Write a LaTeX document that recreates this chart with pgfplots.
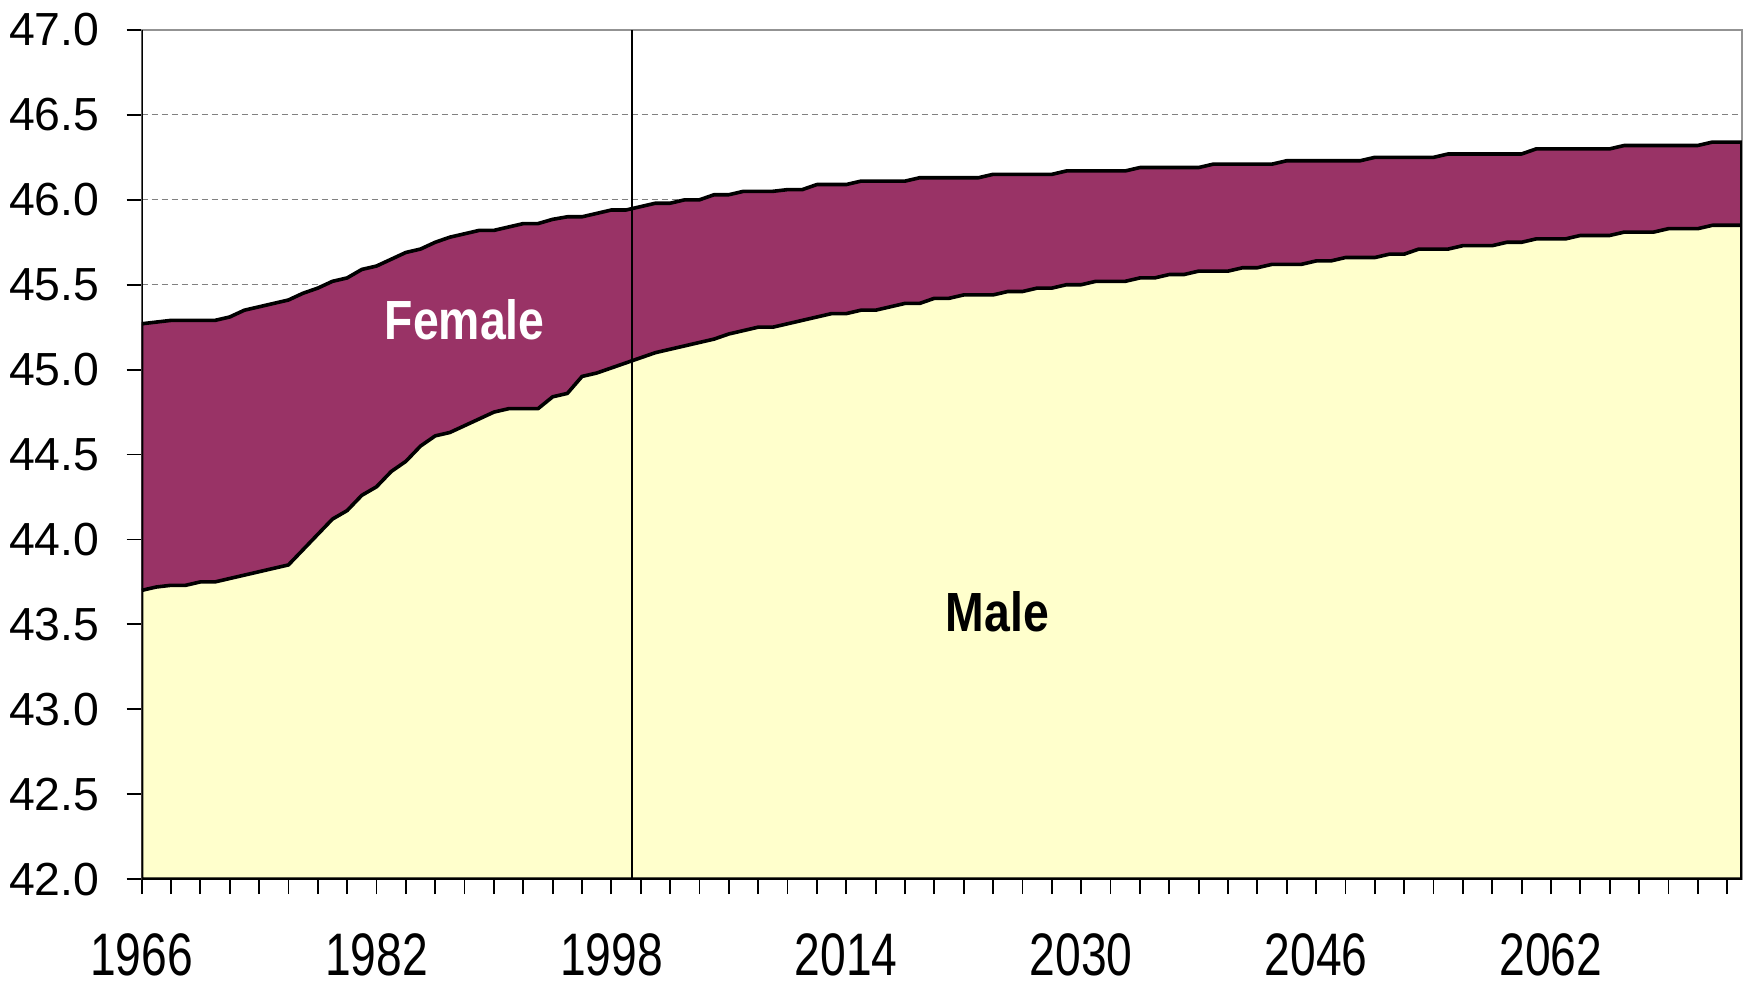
\documentclass[border=0pt]{standalone}
\usepackage{fontspec}
\setmainfont{Liberation Sans}
\newfontfamily\narrowfont[FakeStretch=0.77]{Liberation Sans}
\newfontfamily\labfont[FakeStretch=0.84]{Liberation Sans}
\usepackage{pgfplots}
\pgfplotsset{compat=1.18}
\usepackage{pgfplotstable}
\definecolor{plum}{HTML}{993366}
\definecolor{ltyellow}{HTML}{FFFFCC}

\pgfplotstableread{
year female male
1966 45.27 43.70
1967 45.28 43.72
1968 45.29 43.73
1969 45.29 43.73
1970 45.29 43.75
1971 45.29 43.75
1972 45.31 43.77
1973 45.35 43.79
1974 45.37 43.81
1975 45.39 43.83
1976 45.41 43.85
1977 45.45 43.94
1978 45.48 44.03
1979 45.52 44.12
1980 45.54 44.17
1981 45.59 44.26
1982 45.61 44.31
1983 45.65 44.40
1984 45.69 44.46
1985 45.71 44.55
1986 45.75 44.61
1987 45.78 44.63
1988 45.80 44.67
1989 45.82 44.71
1990 45.82 44.75
1991 45.84 44.77
1992 45.86 44.77
1993 45.86 44.77
1994 45.885 44.84
1995 45.90 44.86
1996 45.90 44.96
1997 45.92 44.98
1998 45.94 45.01
1999 45.94 45.04
2000 45.96 45.07
2001 45.98 45.10
2002 45.98 45.12
2003 46.00 45.14
2004 46.00 45.16
2005 46.03 45.18
2006 46.03 45.21
2007 46.05 45.23
2008 46.05 45.25
2009 46.05 45.25
2010 46.06 45.27
2011 46.06 45.29
2012 46.09 45.31
2013 46.09 45.33
2014 46.09 45.33
2015 46.11 45.35
2016 46.11 45.35
2017 46.11 45.37
2018 46.11 45.39
2019 46.13 45.39
2020 46.13 45.42
2021 46.13 45.42
2022 46.13 45.44
2023 46.13 45.44
2024 46.15 45.44
2025 46.15 45.46
2026 46.15 45.46
2027 46.15 45.48
2028 46.15 45.48
2029 46.17 45.50
2030 46.17 45.50
2031 46.17 45.52
2032 46.17 45.52
2033 46.17 45.52
2034 46.19 45.54
2035 46.19 45.54
2036 46.19 45.56
2037 46.19 45.56
2038 46.19 45.58
2039 46.21 45.58
2040 46.21 45.58
2041 46.21 45.60
2042 46.21 45.60
2043 46.21 45.62
2044 46.23 45.62
2045 46.23 45.62
2046 46.23 45.64
2047 46.23 45.64
2048 46.23 45.66
2049 46.23 45.66
2050 46.25 45.66
2051 46.25 45.68
2052 46.25 45.68
2053 46.25 45.71
2054 46.25 45.71
2055 46.27 45.71
2056 46.27 45.73
2057 46.27 45.73
2058 46.27 45.73
2059 46.27 45.75
2060 46.27 45.75
2061 46.30 45.77
2062 46.30 45.77
2063 46.30 45.77
2064 46.30 45.79
2065 46.30 45.79
2066 46.30 45.79
2067 46.32 45.81
2068 46.32 45.81
2069 46.32 45.81
2070 46.32 45.83
2071 46.32 45.83
2072 46.32 45.83
2073 46.34 45.85
2074 46.34 45.85
2075 46.34 45.85
}\datatable

\begin{document}
\begin{tikzpicture}
\begin{axis}[
  scale only axis,
  width=400pt, height=212.25pt,
  xmin=1966, xmax=2075, ymin=42, ymax=47,
  xtick={1966,1982,1998,2014,2030,2046,2062},
  xticklabels={1966,1982,1998,2014,2030,2046,2062},
  minor xtick={1968,1970,...,2074},
  ytick={42,42.5,43,43.5,44,44.5,45,45.5,46,46.5,47},
  yticklabels={42.0,42.5,43.0,43.5,44.0,44.5,45.0,45.5,46.0,46.5,47.0},
  tick align=outside,
  xtick pos=bottom, ytick pos=left,
  major tick length=3.75pt, minor tick length=3.75pt,
  tick style={black, line width=0.45pt},
  ymajorgrids,
  grid style={gray, line width=0.3pt, dash pattern=on 1.5pt off 1pt},
  axis line style={draw=gray!85, line width=0.5pt},
  xticklabel style={font=\narrowfont\fontsize{15}{16}\selectfont, inner sep=0pt, anchor=north, yshift=-9.65pt},
  yticklabel style={font=\fontsize{11.6}{13}\selectfont, inner sep=0pt, anchor=east, xshift=-6.6pt},
  clip=true,
]
\addplot[draw=black, line width=0.9pt, line join=round, fill=plum] table[x=year, y=female]{\datatable} \closedcycle;
\addplot[draw=black, line width=0.9pt, line join=round, fill=ltyellow] table[x=year, y=male]{\datatable} \closedcycle;
\addplot[black, line width=0.45pt] coordinates {(1999.4,42) (1999.4,47)};
\draw[black, line width=0.6pt] (rel axis cs:0,1) -- (rel axis cs:0,0) -- (rel axis cs:1,0);
\node[font=\labfont\bfseries\fontsize{13.8}{15}\selectfont, text=white] at (axis cs:1988,45.293) {Female};
\node[font=\labfont\bfseries\fontsize{13.8}{15}\selectfont, text=black] at (axis cs:2024.3,43.575) {Male};
\end{axis}
\pgfresetboundingbox
\path (-35.4pt,-26.25pt) rectangle (401.3pt,219.75pt);
\end{tikzpicture}
\end{document}
